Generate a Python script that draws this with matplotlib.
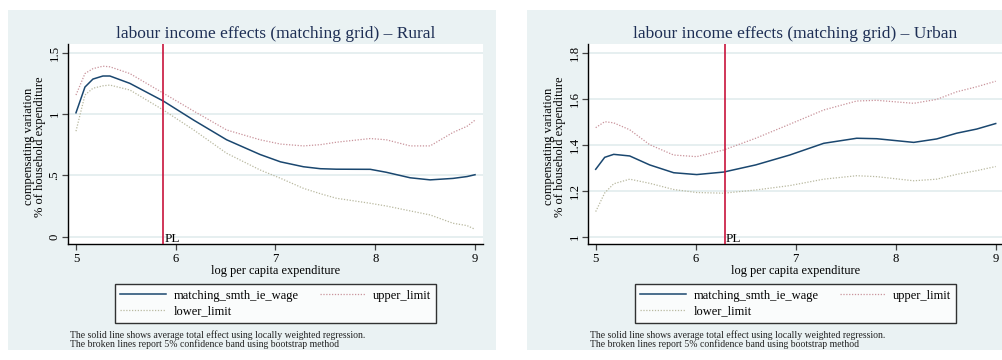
import matplotlib
matplotlib.use("Agg")
import matplotlib.pyplot as plt
from matplotlib.patches import Rectangle
from matplotlib.lines import Line2D

# ---------------- data ----------------
rural_x = [5.0, 5.09, 5.17, 5.27, 5.34, 5.54, 5.875, 6.18, 6.51, 6.845, 7.05,
           7.28, 7.45, 7.61, 7.95, 8.11, 8.35, 8.55, 8.78, 8.92, 9.0]
rural_main = [1.01, 1.22, 1.285, 1.31, 1.31, 1.25, 1.106, 0.95, 0.79, 0.67, 0.61,
              0.57, 0.554, 0.55, 0.549, 0.525, 0.48, 0.463, 0.475, 0.49, 0.505]
rural_upper = [1.155, 1.33, 1.37, 1.39, 1.385, 1.33, 1.17, 1.024, 0.87, 0.79, 0.755,
               0.74, 0.75, 0.77, 0.80, 0.79, 0.74, 0.74, 0.85, 0.90, 0.95]
rural_lower = [0.86, 1.155, 1.21, 1.23, 1.236, 1.196, 1.033, 0.87, 0.68, 0.544, 0.476,
               0.394, 0.35, 0.313, 0.272, 0.25, 0.21, 0.177, 0.109, 0.09, 0.06]
rural_pl = 5.875

urban_x = [5.0, 5.09, 5.18, 5.34, 5.54, 5.78, 6.01, 6.28, 6.6, 6.94, 7.28, 7.61,
           7.81, 8.18, 8.41, 8.61, 8.81, 9.0]
urban_main = [1.293, 1.345, 1.358, 1.351, 1.312, 1.278, 1.27, 1.281, 1.312, 1.355,
              1.406, 1.428, 1.426, 1.41, 1.425, 1.45, 1.468, 1.492]
urban_upper = [1.474, 1.50, 1.495, 1.465, 1.40, 1.355, 1.348, 1.377, 1.428, 1.489,
               1.551, 1.59, 1.593, 1.58, 1.597, 1.63, 1.652, 1.676]
urban_lower = [1.109, 1.19, 1.23, 1.25, 1.232, 1.205, 1.192, 1.189, 1.203, 1.222,
               1.25, 1.265, 1.261, 1.243, 1.25, 1.271, 1.287, 1.305]
urban_pl = 6.29

x_ticks = [5, 6, 7, 8, 9]
rural_yticks = [0, 0.5, 1, 1.5]
rural_ylabels = ["0", ".5", "1", "1.5"]
urban_yticks = [1, 1.2, 1.4, 1.6, 1.8]
urban_ylabels = ["1", "1.2", "1.4", "1.6", "1.8"]

titles = ["labour income effects (matching grid) \u2013 Rural",
          "labour income effects (matching grid) \u2013 Urban"]
series_names = ["matching_smth_ie_wage", "upper_limit", "lower_limit"]
xlabel = "log per capita expenditure"
ylabel = "compensating variation\n% of household expenditure"
note_lines = ["The solid line shows average total effect using locally weighted regression.",
              "The broken lines report 5% confidence band using bootstrap method"]

# ---------------- style ----------------
W, H = 1003, 360
BG = "#EAF2F3"
C_MAIN = "#1A476F"
C_UP = "#C9939B"
C_LOW = "#B9B9A0"
C_PL = "#C8143C"
C_TITLE = "#1E2F55"
SERIF = ["Liberation Serif", "DejaVu Serif"]
DOT = (0, (1, 1.3))

plt.rcParams["font.family"] = SERIF

fig = plt.figure(figsize=(W / 100, H / 100), dpi=100)
fig.patch.set_facecolor("white")


def fx(px):
    return px / W


def fy(py):
    return 1 - py / H


panels = [
    dict(bg=(8, 10, 496, 350), plot=(68, 44, 483, 244), xlim=(4.92, 9.08),
         ylim=(-0.06, 1.571), x=rural_x, main=rural_main, up=rural_upper,
         low=rural_lower, pl=rural_pl, yt=rural_yticks, yl=rural_ylabels,
         title=titles[0]),
    dict(bg=(527, 10, 1016, 350), plot=(588, 44, 1003, 244), xlim=(4.923, 9.073),
         ylim=(0.968, 1.838), x=urban_x, main=urban_main, up=urban_upper,
         low=urban_lower, pl=urban_pl, yt=urban_yticks, yl=urban_ylabels,
         title=titles[1]),
]

for p in panels:
    bx0, by0, bx1, by1 = p["bg"]
    fig.patches.append(Rectangle((fx(bx0), fy(by1)), fx(bx1 - bx0), (by1 - by0) / H,
                                 transform=fig.transFigure, facecolor=BG,
                                 edgecolor="none", zorder=-5))

for p in panels:
    x0, y0, x1, y1 = p["plot"]
    ax = fig.add_axes([fx(x0), fy(y1), fx(x1 - x0), (y1 - y0) / H], zorder=2)
    ax.set_facecolor("white")
    ax.set_xlim(*p["xlim"])
    ax.set_ylim(*p["ylim"])
    for s in ["top", "right"]:
        ax.spines[s].set_visible(False)
    for s in ["left", "bottom"]:
        ax.spines[s].set_linewidth(1.0)
        ax.spines[s].set_color("black")
    ax.set_xticks(x_ticks)
    ax.set_xticklabels([str(t) for t in x_ticks])
    ax.set_yticks(p["yt"])
    ax.set_yticklabels(p["yl"], rotation=90, va="center")
    ax.tick_params(axis="both", direction="out", length=4, width=0.9,
                   color="#444444", labelsize=9.2, labelcolor="black")
    ax.tick_params(axis="x", pad=2.5)
    ax.tick_params(axis="y", pad=1.5)
    ax.grid(axis="y", color="#E2ECEE", lw=1.2)
    ax.set_axisbelow(True)

    ax.plot(p["x"], p["up"], color=C_UP, lw=0.9, ls=DOT, zorder=3)
    ax.plot(p["x"], p["low"], color=C_LOW, lw=0.9, ls=DOT, zorder=3)
    ax.plot(p["x"], p["main"], color=C_MAIN, lw=1.1, zorder=4)
    ax.axvline(p["pl"], color=C_PL, lw=1.2, zorder=5)
    ax.text(p["pl"] + 0.01, 0.012, "PL", transform=ax.get_xaxis_transform(),
            fontsize=9.5, va="baseline", ha="left", color="black", zorder=6)

    cx = (x0 + x1) / 2
    fig.text(fx(cx), fy(38), p["title"], ha="center", va="baseline",
             fontsize=12.5, color=C_TITLE)
    fig.text(fx(cx), fy(274), xlabel, ha="center", va="baseline", fontsize=8.9)
    fig.text(fx(x0 - 33.5), fy(146.5), ylabel, ha="center", va="center",
             rotation=90, fontsize=9.0, linespacing=0.9, multialignment="center")

    handles = [Line2D([], [], color=C_MAIN, lw=1.1),
               Line2D([], [], color=C_LOW, lw=0.9, ls=DOT),
               Line2D([], [], color=C_UP, lw=0.9, ls=DOT)]
    labels = [series_names[0], series_names[2], series_names[1]]
    leg = fig.legend(handles, labels, ncol=2, loc="upper left",
                     bbox_to_anchor=(fx(cx - 160.3), fy(284.3)),
                     frameon=True, fancybox=False,
                     fontsize=9, handlelength=3.65, handletextpad=0.58,
                     columnspacing=1.7, borderpad=0.42, labelspacing=0.3,
                     borderaxespad=0.0)
    leg.get_frame().set_edgecolor("black")
    leg.get_frame().set_linewidth(1.0)

    fig.text(fx(x0 + 2), fy(337.5), note_lines[0], ha="left", va="baseline",
             fontsize=7.0, color="#222222")
    fig.text(fx(x0 + 2), fy(347.0), note_lines[1], ha="left", va="baseline",
             fontsize=7.0, color="#222222")

fig.savefig("out.png", dpi=100, facecolor="white")
